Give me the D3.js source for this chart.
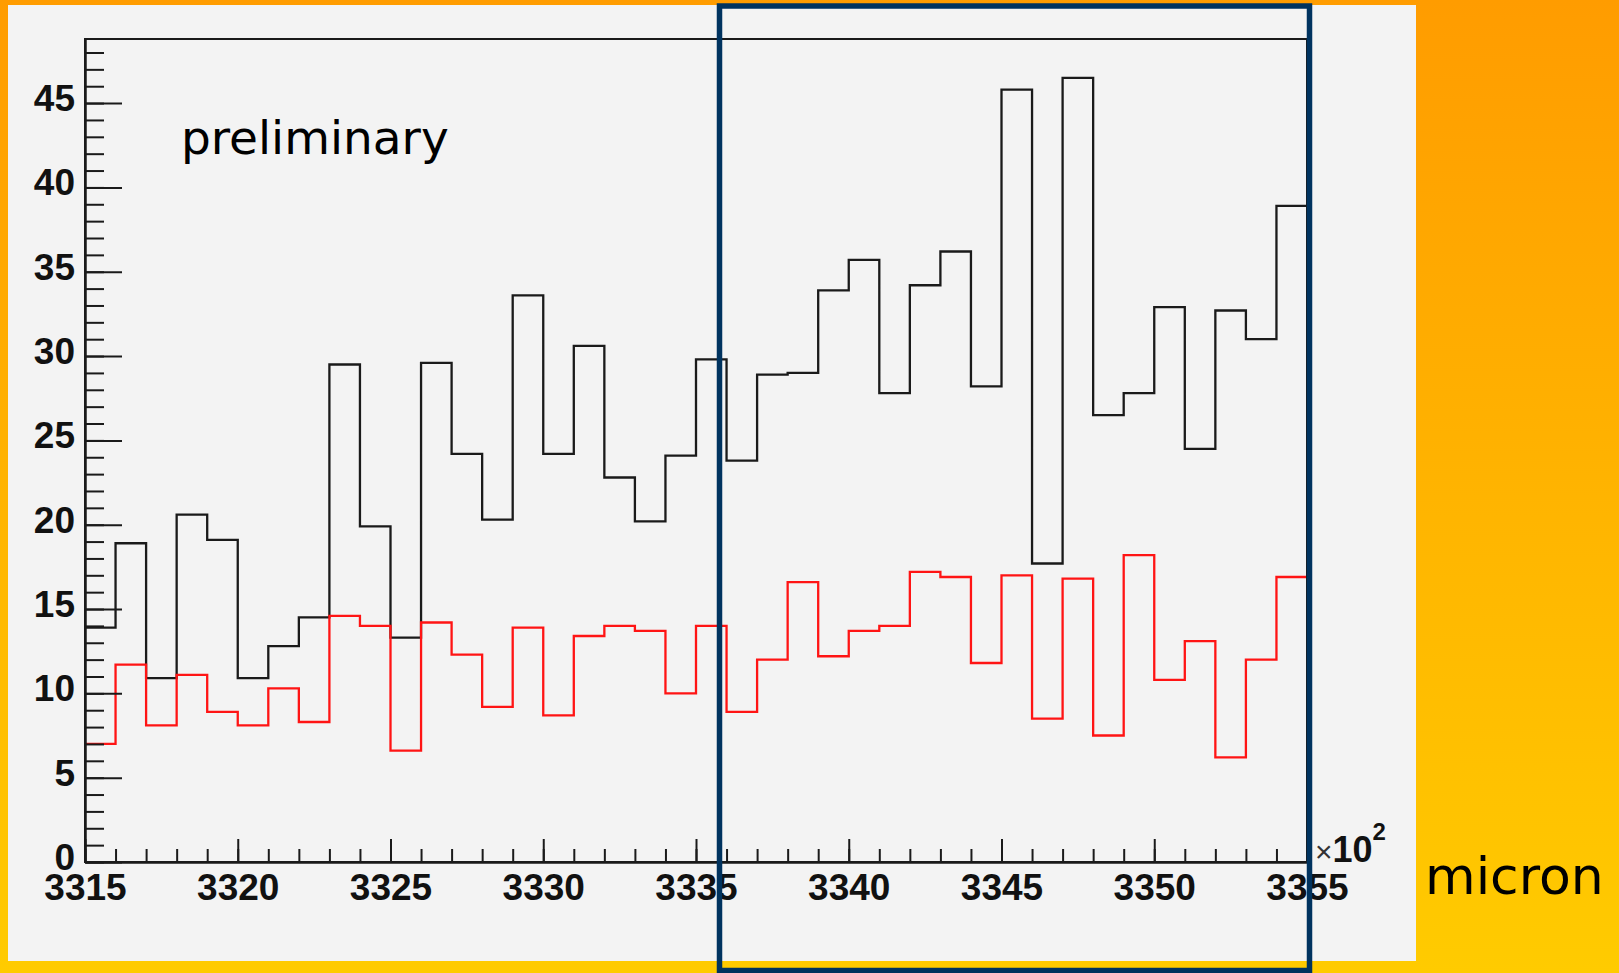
<!DOCTYPE html>
<html>
<head>
<meta charset="utf-8">
<script src="https://cdnjs.cloudflare.com/ajax/libs/d3/7.8.5/d3.min.js"></script>
<style>
  body { margin: 0; background: #fff; }
  svg { display: block; }
</style>
</head>
<body>
<div id="chart"></div>
<script>
// bin lower edges (x10^2 micron), one bin per unit
var binLow = [3315, 3316, 3317, 3318, 3319, 3320, 3321, 3322, 3323, 3324,
              3325, 3326, 3327, 3328, 3329, 3330, 3331, 3332, 3333, 3334,
              3335, 3336, 3337, 3338, 3339, 3340, 3341, 3342, 3343, 3344,
              3345, 3346, 3347, 3348, 3349, 3350, 3351, 3352, 3353, 3354];
var binWidth = 1;

// black histogram
var blackCounts = [13.9, 18.9, 10.9, 20.6, 19.1, 10.9, 12.8, 14.5, 29.5, 19.9,
                   13.3, 29.6, 24.2, 20.3, 33.6, 24.2, 30.6, 22.8, 20.2, 24.1,
                   29.8, 23.8, 28.9, 29.0, 33.9, 35.7, 27.8, 34.2, 36.2, 28.2,
                   45.8, 17.7, 46.5, 26.5, 27.8, 32.9, 24.5, 32.7, 31.0, 38.9];

// red histogram
var redCounts = [7.0, 11.7, 8.1, 11.1, 8.9, 8.1, 10.3, 8.3, 14.6, 14.0,
                 6.6, 14.2, 12.3, 9.2, 13.9, 8.7, 13.4, 14.0, 13.7, 10.0,
                 14.0, 8.9, 12.0, 16.6, 12.2, 13.7, 14.0, 17.2, 16.9, 11.8,
                 17.0, 8.5, 16.8, 7.5, 18.2, 10.8, 13.1, 6.2, 12.0, 16.9];

var xTickLabels = [3315, 3320, 3325, 3330, 3335, 3340, 3345, 3350, 3355];
var yTickLabels = [0, 5, 10, 15, 20, 25, 30, 35, 40, 45];
var xDomain = [3315, 3355];
var yDomain = [0, 48.8];

var W = 1619, H = 973;
var plot = { left: 85, right: 1307, top: 39, bottom: 862 };

var svg = d3.select('#chart')
  .append('svg')
  .attr('width', W)
  .attr('height', H);

// slide background
var defs = svg.append('defs');
var grad = defs.append('linearGradient')
  .attr('id', 'bg')
  .attr('x1', 0).attr('y1', 0).attr('x2', 0).attr('y2', 1);
grad.append('stop').attr('offset', '0%').attr('stop-color', '#ff9c00');
grad.append('stop').attr('offset', '100%').attr('stop-color', '#ffcb00');

svg.append('rect')
  .attr('width', W).attr('height', H)
  .attr('fill', 'url(#bg)');

// canvas
svg.append('rect')
  .attr('x', 8).attr('y', 5)
  .attr('width', 1408).attr('height', 956)
  .attr('fill', '#f3f3f3');

var x = d3.scaleLinear().domain(xDomain).range([plot.left, plot.right]);
var y = d3.scaleLinear().domain(yDomain).range([plot.bottom, plot.top]);

// step outline for a histogram
function stepPoints(counts) {
  var pts = [];
  counts.forEach(function (v, i) {
    pts.push([binLow[i], v]);
  });
  pts.push([binLow[binLow.length - 1] + binWidth, counts[counts.length - 1]]);
  return pts;
}

var stepLine = d3.line()
  .x(function (d) { return x(d[0]); })
  .y(function (d) { return y(d[1]); })
  .curve(d3.curveStepAfter);

svg.append('path')
  .attr('d', stepLine(stepPoints(blackCounts)))
  .attr('fill', 'none')
  .attr('stroke', '#1a1a1a')
  .attr('stroke-width', 2.3);

svg.append('path')
  .attr('d', stepLine(stepPoints(redCounts)))
  .attr('fill', 'none')
  .attr('stroke', '#ff1414')
  .attr('stroke-width', 2.3);

// frame top/right
svg.append('rect')
  .attr('x', plot.left).attr('y', plot.top)
  .attr('width', plot.right - plot.left)
  .attr('height', plot.bottom - plot.top)
  .attr('fill', 'none')
  .attr('stroke', '#1a1a1a')
  .attr('stroke-width', 2);

function styleAxis(g, size) {
  g.attr('font-family', '"Liberation Sans", Arial, sans-serif')
    .attr('font-size', size)
    .attr('font-weight', 'bold');
  g.selectAll('path, line').attr('stroke', '#1a1a1a').attr('stroke-width', 2);
  g.selectAll('text').attr('fill', '#111');
}

// y axis, minor then major
svg.append('g')
  .attr('transform', 'translate(' + plot.left + ',0)')
  .call(d3.axisLeft(y).tickValues(d3.range(0, 49)).tickSize(-19).tickSizeOuter(0).tickFormat(''))
  .call(styleAxis, 37);

var yAxis = svg.append('g')
  .attr('transform', 'translate(' + plot.left + ',0)')
  .call(d3.axisLeft(y).tickValues(yTickLabels).tickSize(-37).tickSizeOuter(0).tickPadding(10))
  .call(styleAxis, 37);
yAxis.selectAll('text').attr('dy', '0.2em');

// x axis, minor then major
svg.append('g')
  .attr('transform', 'translate(0,' + plot.bottom + ')')
  .call(d3.axisBottom(x).tickValues(d3.range(3315, 3356)).tickSize(-13).tickSizeOuter(0).tickFormat(''))
  .call(styleAxis, 37);

svg.append('g')
  .attr('transform', 'translate(0,' + plot.bottom + ')')
  .call(d3.axisBottom(x).tickValues(xTickLabels).tickSize(-23).tickSizeOuter(0).tickPadding(12).tickFormat(d3.format('d')))
  .call(styleAxis, 37);

// x10^2 exponent
var expo = svg.append('text')
  .attr('x', 1315)
  .attr('y', 862)
  .attr('font-family', '"Liberation Sans", Arial, sans-serif')
  .attr('fill', '#111');
expo.append('tspan').attr('font-size', 30).attr('fill', '#333').text('\u00d7');
expo.append('tspan').attr('font-size', 36).attr('font-weight', 'bold').text('10');
expo.append('tspan').attr('font-size', 24).attr('font-weight', 'bold').attr('dy', -22).text('2');

// annotation
svg.append('text')
  .attr('x', 181)
  .attr('y', 154)
  .attr('font-family', '"DejaVu Sans", Verdana, sans-serif')
  .attr('font-size', 47)
  .attr('fill', '#000')
  .text('preliminary');

svg.append('text')
  .attr('x', 1425)
  .attr('y', 894)
  .attr('font-family', '"DejaVu Sans", Verdana, sans-serif')
  .attr('font-size', 52)
  .attr('fill', '#000')
  .text('micron');

// highlight box from the slide
svg.append('rect')
  .attr('x', 719.5).attr('y', 6)
  .attr('width', 590).attr('height', 964.5)
  .attr('fill', 'none')
  .attr('stroke', '#00335f')
  .attr('stroke-width', 5.5);
</script>
</body>
</html>
